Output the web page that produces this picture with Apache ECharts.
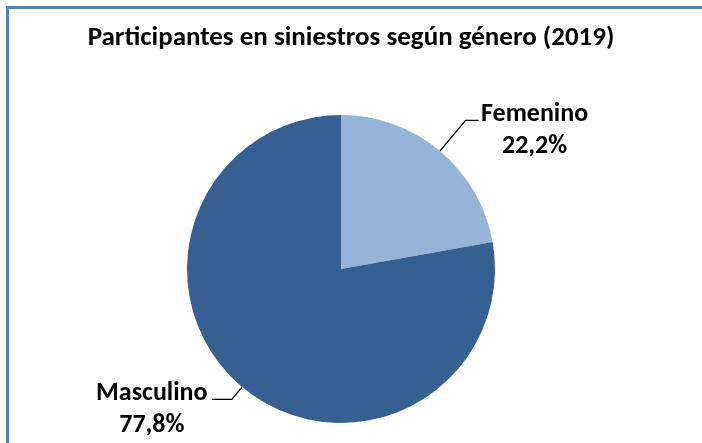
<!DOCTYPE html>
<html>
<head>
<meta charset="utf-8">
<script src="https://cdn.jsdelivr.net/npm/echarts@6/dist/echarts.min.js"></script>
<style>
  html, body { margin: 0; padding: 0; background: #fff; }
  #main { width: 702px; height: 443px; }
</style>
</head>
<body>
<div id="main"></div>
<script>
// datos del grafico
var categories = ['Femenino', 'Masculino'];
var values = [22.2, 77.8];
var colors = ['#95B3D7', '#376092'];

var FONT = 'Carlito, "Liberation Sans", Arial, sans-serif';

var myChart = echarts.init(document.getElementById('main'));

function richFor(w) {
    return {
        a: { fontFamily: FONT, fontSize: 26, fontWeight: 'bold', color: '#000',
             width: w, align: 'center', lineHeight: 32 }
    };
}

var data = categories.map(function (name, i) {
    var item = { name: name, value: values[i], itemStyle: { color: colors[i] } };
    if (i === 0) {
        item.labelLine = { length: 40, length2: 13 };
        item.label = { padding: [20, 0, 0, 0], rich: richFor(106) };
    } else {
        item.labelLine = { length: 16, length2: 20 };
        item.label = { padding: [20, 0, 0, 0], rich: richFor(114) };
    }
    return item;
});

var option = {
    backgroundColor: '#fff',
    animation: false,
    title: {
        text: 'Participantes en siniestros según género (2019)',
        left: 'center',
        top: 20,
        textStyle: { fontFamily: FONT, fontSize: 27, fontWeight: 'bold', color: '#000' }
    },
    graphic: [{
        type: 'rect',
        shape: { x: 7.5, y: 7.5, width: 760, height: 500 },
        style: { fill: 'none', stroke: '#4F81BD', lineWidth: 3 },
        silent: true
    }],
    series: [{
        type: 'pie',
        center: [341, 269],
        radius: 154,
        startAngle: 90,
        clockwise: true,
        data: data,
        label: {
            show: true,
            position: 'outside',
            distanceToLabelLine: 3,
            formatter: function (p) {
                return '{a|' + p.name + '}\n{a|' + p.value.toFixed(1).replace('.', ',') + '%}';
            }
        },
        labelLine: {
            show: true,
            lineStyle: { color: '#000', width: 1.3 }
        },
        emphasis: { disabled: true }
    }]
};

myChart.setOption(option);
</script>
</body>
</html>
